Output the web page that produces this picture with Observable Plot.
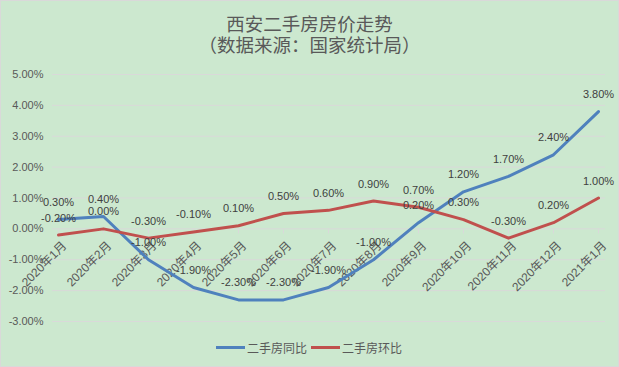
<!DOCTYPE html>
<html><head><meta charset="utf-8">
<script src="https://cdn.jsdelivr.net/npm/d3@7"></script>
<script src="https://cdn.jsdelivr.net/npm/@observablehq/plot@0.6"></script>
<style>
body{margin:0;background:#fff;}
#wrap{position:relative;width:619px;height:367px;background:#cce8cf;box-shadow:inset 0 0 0 1px #d9d9d9;overflow:hidden;font-family:"Liberation Sans","Noto Sans CJK SC",sans-serif;}
.title{position:absolute;left:0;width:619px;text-align:center;font-family:"Noto Sans CJK SC",sans-serif;font-size:18.5px;line-height:18px;height:18px;color:#595959;white-space:nowrap;}
#t1{top:14px;}
#t2{top:35px;}
#plot{position:absolute;left:0;top:0;}
#legend{position:absolute;left:216px;top:338px;height:18px;display:flex;align-items:center;font-family:"Noto Sans CJK SC",sans-serif;font-size:12px;color:#595959;}
.sw{display:inline-block;width:29px;height:3px;margin-right:2px;}
.it{display:flex;align-items:center;margin-right:4px;}
</style>
</head><body>
<div id="wrap">
  <div class="title" id="t1">西安二手房房价走势</div>
  <div class="title" id="t2">（数据来源：国家统计局）</div>
  <div id="plot"></div>
  <div id="legend"></div>
</div>
<script>
const months = ["2020年1月","2020年2月","2020年3月","2020年4月","2020年5月","2020年6月","2020年7月","2020年8月","2020年9月","2020年10月","2020年11月","2020年12月","2021年1月"];
const yoy = [0.3,0.4,-1.0,-1.9,-2.3,-2.3,-1.9,-1.0,0.2,1.2,1.7,2.4,3.8];
const mom = [-0.2,0.0,-0.3,-0.1,0.1,0.5,0.6,0.9,0.7,0.3,-0.3,0.2,1.0];
const seriesNames = ["二手房同比","二手房环比"];
const colors = ["#4f81bd","#c0504d"];
const yTicks = [-3,-2,-1,0,1,2,3,4,5];

const data = [];
months.forEach((m,i)=>{
  data.push({month:m, value:yoy[i], series:seriesNames[0]});
  data.push({month:m, value:mom[i], series:seriesNames[1]});
});
const fmt = v => v.toFixed(2) + "%";

const chart = Plot.plot({
  width: 619, height: 367,
  marginTop: 74, marginBottom: 46, marginLeft: 52, marginRight: 16,
  style: {background:"transparent", color:"#595959", fontFamily:'"Liberation Sans","Noto Sans CJK SC",sans-serif', fontSize:"11px"},
  x: {type:"point", domain: months, padding:0, axis:null},
  y: {domain:[-3,5], axis:null},
  color: {domain: seriesNames, range: colors},
  marks: [
    Plot.ruleY(yTicks, {stroke:"#d9d9d9", strokeOpacity:1, strokeWidth:1, insetRight:-2}),
    Plot.ruleX(months, {x: d=>d, y1: 0, y2: 0, insetBottom:-5, stroke:"#d9d9d9", strokeOpacity:1}),
    Plot.axisY({ticks: yTicks, tickFormat: fmt, tickSize:0, tickPadding:9, fontSize:11, fill:"#595959", label:null}),
    Plot.text(months, {x: d=>d, y: 0, text: d=>d, rotate:-45, textAnchor:"end", dx:6, dy:15, fontSize:12, fill:"#595959", fontFamily:'"Liberation Sans","Noto Sans CJK SC",sans-serif'}),
    Plot.line(data, {x:"month", y:"value", z:"series", stroke:"series", strokeWidth:3, strokeLinejoin:"round"}),
    Plot.text(data, {x:"month", y:"value", text: d=>fmt(d.value), dy:-17, fontSize:11, fill:"#404040"})
  ]
});
document.getElementById("plot").appendChild(chart);

const legend = document.getElementById("legend");
seriesNames.forEach((s,i)=>{
  const it = document.createElement("span"); it.className="it";
  const sw = document.createElement("span"); sw.className="sw"; sw.style.background=colors[i];
  it.appendChild(sw); it.appendChild(document.createTextNode(s));
  legend.appendChild(it);
});
</script>
</body></html>
